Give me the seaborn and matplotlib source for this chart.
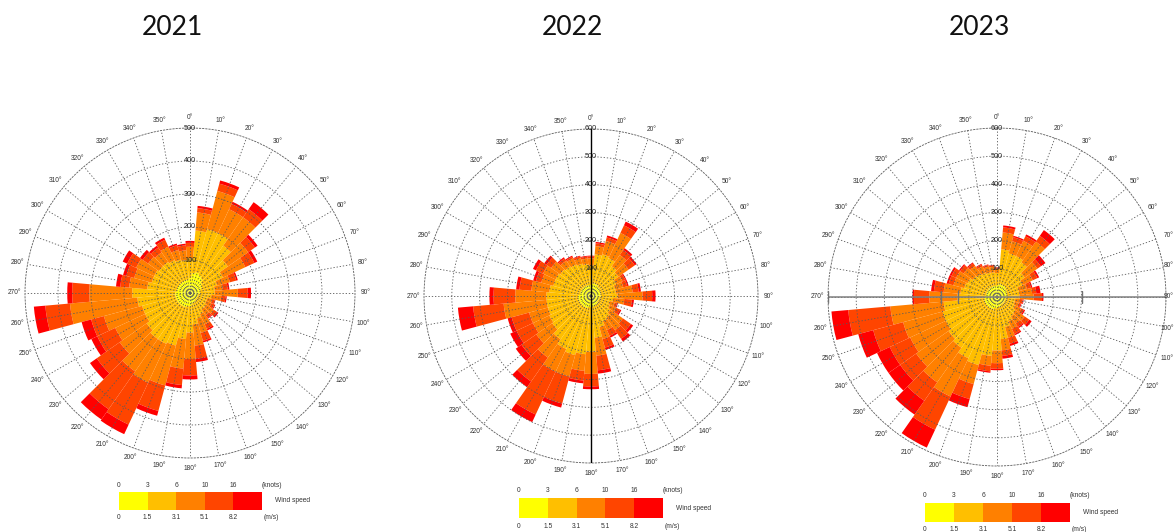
import numpy as np
import matplotlib
matplotlib.use("Agg")
import matplotlib.pyplot as plt
from matplotlib.colors import ListedColormap
import seaborn as sns

# ---------------------------------------------------------------------------
# Data: hourly counts per 10-degree direction sector, split by wind-speed class
# ---------------------------------------------------------------------------
directions = list(range(0, 360, 10))

speed_colors = ["#FFFF00", "#FFBF00", "#FF8000", "#FF4500", "#FF0000"]
knots_ticks = ["0", "3", "6", "10", "16", "(knots)"]
ms_ticks = ["0", "1.5", "3.1", "5.1", "8.2", "(m/s)"]
years = ["2021", "2022", "2023"]

# 2021
calm_2021 = [45, 60, 65, 60, 55, 45, 40, 35, 30, 30, 25, 25, 25, 25, 25, 30, 30, 35,
             40, 40, 45, 45, 45, 45, 45, 45, 45, 45, 40, 40, 40, 40, 40, 40, 40, 40]
light_2021 = [60, 130, 135, 140, 120, 95, 70, 50, 45, 45, 40, 30, 30, 35, 35, 40, 50, 60,
              80, 100, 120, 125, 125, 115, 105, 105, 115, 130, 90, 80, 80, 75, 75, 70, 65, 60]
moderate_2021 = [35, 55, 120, 80, 105, 75, 75, 40, 25, 70, 30, 15, 17, 28, 22, 35, 45, 65,
                 80, 90, 125, 130, 120, 100, 100, 120, 205, 130, 55, 55, 60, 40, 35, 45, 30, 30]
fresh_2021 = [12, 13, 23, 18, 30, 25, 30, 20, 15, 30, 13, 8, 10, 12, 10, 15, 25, 40,
              50, 50, 80, 140, 140, 85, 60, 40, 75, 52, 27, 25, 30, 20, 18, 23, 15, 15]
strong_2021 = [6, 7, 10, 7, 26, 10, 10, 5, 5, 10, 4, 2, 3, 5, 3, 5, 5, 10,
               12, 10, 15, 32, 38, 25, 20, 30, 35, 15, 13, 10, 15, 10, 7, 7, 5, 5]

# 2022
calm_2022 = [40, 45, 45, 45, 40, 40, 35, 35, 35, 35, 30, 30, 30, 30, 35, 35, 35, 40,
             40, 40, 45, 45, 45, 45, 45, 45, 45, 45, 40, 40, 40, 40, 40, 40, 40, 40]
light_2022 = [70, 105, 110, 105, 90, 80, 65, 55, 55, 60, 50, 40, 45, 55, 60, 65, 80, 110,
              160, 170, 175, 165, 145, 125, 120, 115, 115, 115, 110, 100, 100, 95, 90, 85, 80, 75]
moderate_2022 = [25, 30, 50, 100, 50, 45, 25, 30, 60, 90, 40, 18, 25, 55, 55, 35, 45, 65,
                 80, 60, 80, 90, 80, 70, 65, 70, 155, 112, 65, 45, 50, 40, 25, 25, 20, 20]
fresh_2022 = [7, 10, 13, 30, 22, 27, 11, 15, 22, 35, 28, 9, 15, 35, 38, 23, 32, 53,
              45, 35, 100, 170, 105, 65, 65, 65, 110, 78, 43, 20, 28, 20, 10, 6, 7, 7]
strong_2022 = [3, 5, 7, 15, 8, 8, 4, 5, 8, 12, 7, 3, 5, 10, 12, 7, 8, 12,
               10, 10, 15, 30, 25, 25, 25, 15, 55, 15, 12, 10, 12, 10, 5, 4, 3, 3]

# 2023
calm_2023 = [40, 45, 45, 45, 45, 40, 40, 35, 35, 35, 30, 30, 30, 30, 30, 30, 35, 35,
             40, 40, 45, 45, 45, 45, 45, 45, 45, 45, 40, 40, 40, 40, 40, 40, 40, 40]
light_2023 = [45, 125, 115, 115, 105, 80, 60, 45, 45, 45, 35, 35, 40, 50, 55, 65, 75, 115,
              150, 170, 205, 195, 175, 165, 155, 155, 145, 95, 90, 80, 75, 65, 60, 55, 50, 48]
moderate_2023 = [15, 60, 45, 60, 90, 55, 40, 30, 45, 50, 17, 15, 25, 40, 30, 30, 40, 40,
                 45, 35, 70, 150, 150, 140, 140, 145, 190, 100, 60, 40, 45, 40, 35, 25, 22, 20]
fresh_2023 = [3, 18, 15, 18, 25, 15, 18, 15, 15, 30, 10, 7, 10, 20, 15, 20, 22, 20,
              20, 20, 55, 130, 80, 70, 80, 110, 150, 55, 35, 18, 18, 15, 11, 7, 6, 5]
strong_2023 = [2, 7, 5, 7, 25, 20, 7, 5, 15, 5, 3, 3, 5, 10, 5, 5, 8, 10,
               5, 5, 30, 70, 60, 50, 50, 55, 60, 5, 10, 7, 7, 5, 4, 3, 2, 2]

year_classes = {
    "2021": [calm_2021, light_2021, moderate_2021, fresh_2021, strong_2021],
    "2022": [calm_2022, light_2022, moderate_2022, fresh_2022, strong_2022],
    "2023": [calm_2023, light_2023, moderate_2023, fresh_2023, strong_2023],
}
year_rmax = {"2021": 500, "2022": 600, "2023": 600}

# ---------------------------------------------------------------------------
# Layout (pixels, converted to figure fractions)
# ---------------------------------------------------------------------------
W, H = 1175, 532
rose_geom = {  # centre x, centre y (from top), radius
    "2021": (190, 293, 165),
    "2022": (591, 296, 167),
    "2023": (997, 297, 169),
}
title_x = {"2021": 172, "2022": 572, "2023": 979}
cbar_geom = {  # left, top, right, bottom
    "2021": (119, 492, 262, 510),
    "2022": (519, 498, 663, 518),
    "2023": (925, 503, 1070, 522),
}

sns.set_theme(style="white")
plt.rcParams["font.family"] = ["Liberation Sans", "DejaVu Sans"]

fig = plt.figure(figsize=(W / 100, H / 100), dpi=100)
fig.patch.set_facecolor("white")

grid_color = "#5a5a5a"
grid_ls = (0, (1.6, 2.2))
theta = np.deg2rad(directions)
sector = np.deg2rad(10)
label_kw = dict(fontsize=4.8, color="#333333")

for year in years:
    cx, cy, R = rose_geom[year]
    rect = [(cx - R) / W, (H - cy - R) / H, 2 * R / W, 2 * R / H]
    ax = fig.add_axes(rect, projection="polar")
    ax.set_facecolor("none")
    ax.set_theta_zero_location("N")
    ax.set_theta_direction(-1)
    rmax = year_rmax[year]

    bottom = np.zeros(len(directions))
    for vals, col in zip(year_classes[year], speed_colors):
        vals = np.asarray(vals, dtype=float)
        ax.bar(theta, vals, width=sector, bottom=bottom, color=col,
               linewidth=0, align="center", zorder=1)
        bottom += vals

    ax.set_ylim(0, rmax)
    ax.set_xticks(theta)
    ax.set_xticklabels([])
    ax.set_yticks(np.arange(100, rmax, 100))
    ax.set_yticklabels([])
    ax.grid(True, color=grid_color, linewidth=0.6, linestyle=grid_ls)
    ax.set_axisbelow(False)
    ax.spines["polar"].set_color(grid_color)
    ax.spines["polar"].set_linewidth(0.6)
    ax.spines["polar"].set_linestyle(grid_ls)

    # compass labels just outside the outer ring
    for d in directions:
        a = np.deg2rad(d)
        px = cx + (R + 10.5) * np.sin(a)
        py = cy - (R + 10.5) * np.cos(a)
        if px + 9 > W - 1:
            fig.text((W - 1) / W, 1 - py / H, f"{d}°", ha="right", va="center", **label_kw)
        else:
            ax.text(a, rmax * (R + 10.5) / R, f"{d}°", ha="center", va="center",
                    zorder=5, **label_kw)
    # ring labels along the north axis
    for r in range(100, rmax + 1, 100):
        ax.text(0, r, str(r), ha="center", va="center", fontsize=5.2,
                color="#222222", zorder=5)

    if year == "2022":
        ax.plot([0, 0], [0, rmax], color="black", lw=1.0, zorder=6)
        ax.plot([np.pi, np.pi], [0, rmax], color="black", lw=1.0, zorder=6)
    if year == "2023":
        ax.plot([np.pi / 2, np.pi / 2], [0, rmax], color="#808080", lw=1.1, zorder=6)
        ax.plot([3 * np.pi / 2, 3 * np.pi / 2], [0, rmax], color="#808080", lw=1.1, zorder=6)
        ax.plot([3 * np.pi / 2] * 3 + [np.pi / 2] * 2, [600, 200, 140, 300, 600],
                ls="none", marker="|", ms=9, mew=1.0, color="#707070", zorder=6)

    fig.text(title_x[year] / W, 1 - 28 / H, year, ha="center", va="center",
             fontsize=19, family=["Lato", "DejaVu Sans"], color="#111111")

    # speed-class legend strip
    l, t, r_, b = cbar_geom[year]
    cax = fig.add_axes([l / W, (H - b) / H, (r_ - l) / W, (b - t) / H])
    sns.heatmap(np.array([[0, 1, 2, 3, 4]]), cmap=ListedColormap(speed_colors),
                cbar=False, ax=cax, xticklabels=False, yticklabels=False,
                linewidths=0)
    cax.set_xlim(0, 5)
    trans = cax.get_xaxis_transform()
    for i in range(5):
        cax.text(i, 1.38, knots_ticks[i], transform=trans, ha="center", va="center", **label_kw)
        cax.text(i, -0.40, ms_ticks[i], transform=trans, ha="center", va="center", **label_kw)
    cax.text(4.98, 1.38, knots_ticks[5], transform=trans, ha="left", va="center", **label_kw)
    cax.text(5.05, -0.40, ms_ticks[5], transform=trans, ha="left", va="center", **label_kw)
    cax.text(5.45, 0.5, "Wind speed", transform=trans, ha="left", va="center", **label_kw)
    for s in cax.spines.values():
        s.set_visible(False)

fig.savefig("out.png", dpi=100, facecolor="white")
